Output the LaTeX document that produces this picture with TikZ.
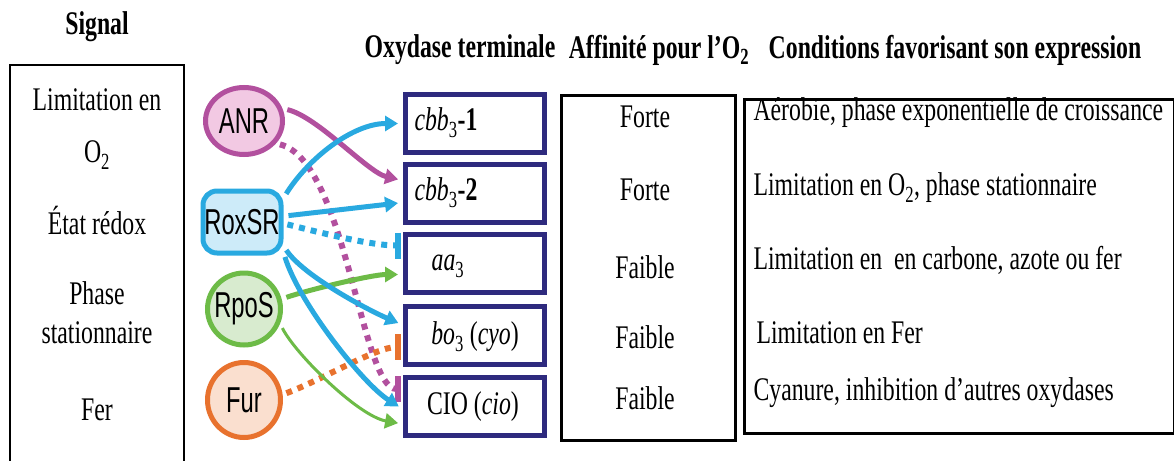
\documentclass[tikz,border=0pt]{standalone}
\usepackage{fontspec}
\setmainfont[FakeStretch=0.72]{Liberation Serif}
\newfontfamily\regfont[FakeStretch=0.66]{Liberation Sans}
\usepackage{tikz}
\usetikzlibrary{shapes.geometric}
\usetikzlibrary{arrows.meta}
\definecolor{anrcol}{HTML}{B2509E}
\definecolor{anrfill}{HTML}{F2C9E3}
\definecolor{roxcol}{HTML}{29A9E0}
\definecolor{roxfill}{HTML}{CDEBF9}
\definecolor{rpocol}{HTML}{6DBB47}
\definecolor{rpofill}{HTML}{D8EBCF}
\definecolor{furcol}{HTML}{E8722E}
\definecolor{furfill}{HTML}{FADFCF}
\definecolor{boxcol}{HTML}{2E2A7E}

\begin{document}
\begin{tikzpicture}[x=1pt,y=-1pt,
    font=\fontsize{33}{38}\selectfont,
    head/.style={font=\fontsize{33}{38}\selectfont\bfseries},
    regulator/.style={ellipse,line width=5pt,inner sep=0pt,minimum width=77pt,minimum height=67pt,font=\fontsize{36}{40}\selectfont\regfont},
    oxydase/.style={rectangle,draw=boxcol,line width=5pt,minimum width=139pt,minimum height=58pt},
    table box/.style={rectangle,draw,line width=2.5pt,inner sep=0pt,anchor=north west},
    active/.style={line width=5pt,-{Triangle[length=13pt,width=15pt]},shorten >=5pt,shorten <=5pt},
    thin active/.style={active,line width=3pt},
    repress/.style={line width=6pt,dash pattern=on 6pt off 6pt,-{Bar[width=26pt,line width=6pt]},shorten >=0pt,shorten <=4pt}]
    \useasboundingbox (0,0) rectangle (1174,460);

    \node [head] (sighead) at (97,27) {Signal};
    \node [head] (oxhead) at (460,50) {Oxydase terminale};
    \node [head] (affhead) at (659,50) {Affinité pour l’O\textsubscript{2}};
    \node [head] (condhead) at (955,50) {Conditions favorisant son expression};

    \draw [line width=2.5pt] (10,470) |- (184,65) -- (184,470);
    \node (sig1) at (97,100) {Limitation en};
    \node (sig2) at (97,155) {O\textsubscript{2}};
    \node (sig3) at (97,220) {État rédox};
    \node (sig4) at (97,293) {Phase};
    \node (sig5) at (97,333) {stationnaire};
    \node (sig6) at (97,410) {Fer};

    \node [regulator,draw=anrcol,fill=anrfill] (anr) at (244,121) {ANR};
    \node [regulator,rectangle,rounded corners=14pt,draw=roxcol,fill=roxfill,minimum width=78pt,minimum height=62pt] (roxsr) at (242,222) {RoxSR};
    \node [regulator,draw=rpocol,fill=rpofill,inner xsep=-4pt,minimum width=73pt,minimum height=72pt] (rpos) at (244,309) {RpoS};
    \node [regulator,draw=furcol,fill=furfill,minimum width=73pt,minimum height=75pt] (fur) at (244,400) {Fur};

    \node [oxydase] (ox1) at (475,123.5) {};
    \node [oxydase] (ox2) at (475,193.5) {};
    \node [oxydase] (ox3) at (475,263.5) {};
    \node [oxydase] (ox4) at (475,335) {};
    \node [oxydase] (ox5) at (475,406) {};
    \node [anchor=west] (lab1) at (411,123) {\textit{cbb}\textsubscript{3}\textbf{-1}};
    \node [anchor=west] (lab2) at (411,193) {\textit{cbb}\textsubscript{3}\textbf{-2}};
    \node (lab3) at (448,266) {\textit{aa}\textsubscript{3}};
    \node (lab4) at (475,337) {\textit{bo}\textsubscript{3} (\textit{cyo})};
    \node (lab5) at (473,407) {CIO (\textit{cio})};

    \node [table box,minimum width=174pt,minimum height=345pt] (affbox) at (560,94) {};
    \node (aff1) at (645,117) {Forte};
    \node (aff2) at (645,190) {Forte};
    \node (aff3) at (645,267) {Faible};
    \node (aff4) at (645,337) {Faible};
    \node (aff5) at (645,398) {Faible};

    \node [table box,minimum width=430pt,minimum height=334pt] (condbox) at (743,98) {};
    \node [anchor=west] (cond1) at (750,113) {Aérobie, phase exponentielle de croissance};
    \node [anchor=west] (cond2) at (750,188) {Limitation en O\textsubscript{2}, phase stationnaire};
    \node [anchor=west] (cond3) at (750,260) {Limitation en~ en carbone, azote ou fer};
    \node [anchor=west] (cond4) at (753,333) {Limitation en Fer};
    \node [anchor=west] (cond5) at (750,393) {Cyanure, inhibition d’autres oxydases};

    \draw [repress,anrcol] (anr.-35) .. controls +(70,17) and +(-40,0) .. ([xshift=-2pt,yshift=17pt]ox5.west);
    \draw [repress,roxcol] (roxsr.-2) .. controls +(40,10) and +(-30,0) .. ([xshift=-2pt,yshift=18pt]ox3.west);
    \draw [repress,furcol] (fur.8) .. controls +(40,-15) and +(-25,0) .. ([xshift=-2pt,yshift=-12pt]ox4.west);
    \draw [active,anrcol] (anr.18) .. controls +(35,8) and +(-35,-8) .. ([yshift=13pt]ox2.west);
    \draw [active,roxcol] (roxsr.30) .. controls +(25,-40) and +(-50,0) .. (ox1.west);
    \draw [active,roxcol] (roxsr.8) -- ([yshift=-9pt]ox2.west);
    \draw [active,rpocol] (rpos.15) .. controls +(30,-10) and +(-30,0) .. ([yshift=-11pt]ox3.west);
    \draw [active,roxcol] (roxsr.-30) .. controls +(20,30) and +(-35,-15) .. ([yshift=10pt]ox4.west);
    \draw [active,roxcol] (roxsr.-36) .. controls +(15,50) and +(-40,-25) .. ([yshift=-3pt]ox5.west);
    \draw [thin active,rpocol] (rpos.-22) .. controls +(15,30) and +(-45,-8) .. ([yshift=-18pt]ox5.west);
\end{tikzpicture}
\end{document}
